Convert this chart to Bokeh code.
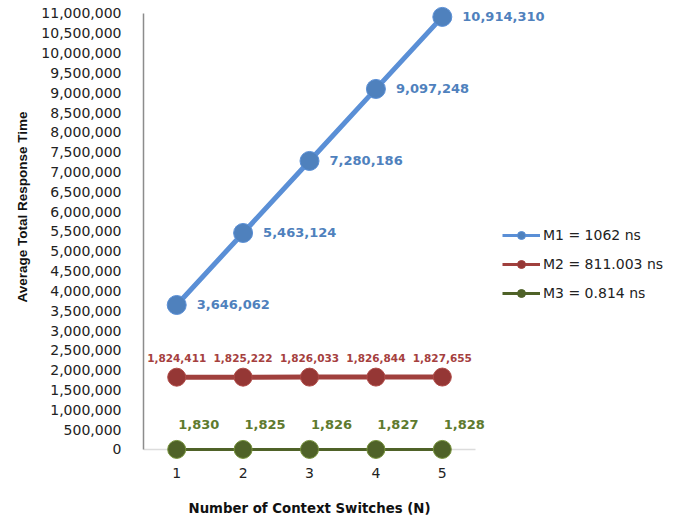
from bokeh.plotting import figure
from bokeh.models import (ColumnDataSource, Legend, LegendItem, NumeralTickFormatter,
                          SingleIntervalTicker, Range1d, BoxAnnotation, Title, Label)
from bokeh.embed import file_html
from bokeh.resources import INLINE
from bokeh.core.properties import value

switches = [1, 2, 3, 4, 5]
m1 = [3646062, 5463124, 7280186, 9097248, 10914310]
m2 = [1824411, 1825222, 1826033, 1826844, 1827655]
m3 = [1830, 1825, 1826, 1827, 1828]
series_names = ["M1 = 1062 ns", "M2 = 811.003 ns", "M3 = 0.814 ns"]
x_title = "Number of Context Switches (N)"
y_title = "Average Total Response Time"

FONT = "DejaVu Sans"
TFONT = "Liberation Sans"

p = figure(width=680, height=517, output_backend="svg", toolbar_location=None,
           x_range=Range1d(0.5, 8.587), y_range=Range1d(-1715599, 11327977),
           x_axis_location=None,
           min_border_left=143, min_border_right=0, min_border_top=0,
           min_border_bottom=0)
p.outline_line_color = None
p.xgrid.visible = False
p.ygrid.visible = False
p.background_fill_color = "white"
p.border_fill_color = "white"

# y axis
p.yaxis.ticker = SingleIntervalTicker(interval=500000)
p.yaxis.formatter = NumeralTickFormatter(format="0,0")
p.yaxis.bounds = (0, 11000000)
p.yaxis.axis_line_color = "#8c8c8c"
p.yaxis.axis_line_width = 1.5
p.yaxis.major_tick_line_color = None
p.yaxis.minor_tick_line_color = None
p.yaxis.major_tick_out = 0
p.yaxis.major_tick_in = 0
p.yaxis.major_label_standoff = 18
p.yaxis.major_label_text_font = FONT
p.yaxis.major_label_text_font_size = "14px"
p.yaxis.major_label_text_color = "#222222"
p.add_layout(Title(text=y_title, align="left", offset=215, standoff=17,
                   text_font=TFONT, text_font_style="bold", text_font_size="13.5px",
                   text_color="#111111"), "left")

# x axis: line at y = 0, category tick labels and title below it
x_lo, x_hi = switches[0] - 0.5, switches[-1] + 0.5
p.add_layout(BoxAnnotation(left=x_lo, right=x_hi, bottom=0, top=0,
                           fill_alpha=0, line_color="#8c8c8c", line_width=1.5,
                           level="underlay"))
ticks = ColumnDataSource(dict(x=switches, y=[0] * len(switches),
                              t=[str(s) for s in switches]))
p.text("x", "y", text="t", source=ticks, y_offset=24, text_align="center",
       text_baseline="middle", text_font=value(FONT), text_font_size="14px",
       text_color="#222222")
p.add_layout(Label(x=(switches[0] + switches[-1]) / 2, y=0, text=x_title,
                   y_offset=-59, text_align="center", text_baseline="middle",
                   text_font=FONT, text_font_style="bold", text_font_size="13.3px",
                   text_color="#111111"))

def lab(vals):
    return ["{:,}".format(v) for v in vals]

s1 = ColumnDataSource(dict(x=switches, y=m1, t=lab(m1)))
s2 = ColumnDataSource(dict(x=switches, y=m2, t=lab(m2)))
s3 = ColumnDataSource(dict(x=switches, y=m3, t=lab(m3)))

styles = [("#5A8FD6", "#4F81BD"), ("#A0403D", "#953735"), ("#4F6228", "#4F6228")]

l3 = p.line("x", "y", source=s3, line_color="#4F6228", line_width=3)
c3 = p.scatter("x", "y", source=s3, size=18, fill_color="#4F6228", line_color="#77933C", line_width=1)
l2 = p.line("x", "y", source=s2, line_color="#A0403D", line_width=5)
c2 = p.scatter("x", "y", source=s2, size=18, fill_color="#953735", line_color="#B04A47", line_width=1)
l1 = p.line("x", "y", source=s1, line_color="#5A8FD6", line_width=5)
c1 = p.scatter("x", "y", source=s1, size=19, fill_color="#4F81BD", line_color="#5A8FD6", line_width=1)

p.text("x", "y", text="t", source=s1, x_offset=20, y_offset=0,
       text_align="left", text_baseline="middle", text_font=value(FONT),
       text_font_style="bold", text_font_size="13px", text_color="#4F81BD")
p.text("x", "y", text="t", source=s2, x_offset=0, y_offset=-19,
       text_align="center", text_baseline="middle", text_font=value(FONT),
       text_font_style="bold", text_font_size="10.5px", text_color="#A5403E")
p.text("x", "y", text="t", source=s3, x_offset=22, y_offset=-25,
       text_align="center", text_baseline="middle", text_font=value(FONT),
       text_font_style="bold", text_font_size="13px", text_color="#5E7A2E")

# legend swatches: thinner lines with small markers, as in the reference
nan = float("nan")
items = []
for name, (lc, mc) in zip(series_names, styles):
    blank = ColumnDataSource(dict(x=[nan], y=[nan]))
    lr = p.line("x", "y", source=blank, line_color=lc, line_width=3)
    mr = p.scatter("x", "y", source=blank, size=9, fill_color=mc, line_color=lc)
    items.append(LegendItem(label=name, renderers=[lr, mr]))

legend = Legend(items=items, location=(359, 214), orientation="vertical",
                border_line_color=None, background_fill_alpha=0,
                padding=0, margin=0, spacing=9,
                glyph_width=38, glyph_height=20, label_height=20,
                label_standoff=3, label_text_font=FONT,
                label_text_font_size="14px", label_text_color="#222222")
p.add_layout(legend, "center")

open("out.html", "w").write(file_html(p, INLINE))
